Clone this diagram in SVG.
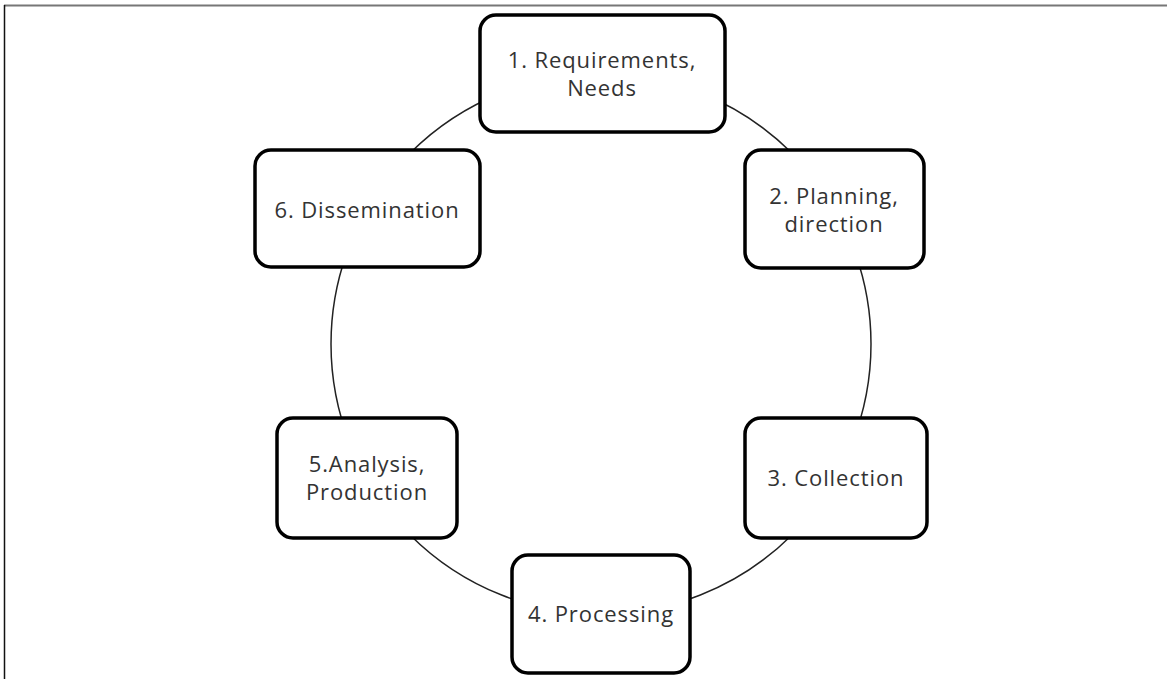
<svg xmlns="http://www.w3.org/2000/svg" width="1167" height="679" viewBox="0 0 1167 679">
<style>
.box{fill:#fff;stroke:#000;stroke-width:3.5}
.lbl{font-family:"Open Sans","DejaVu Sans",sans-serif;font-size:22px;letter-spacing:0.9px;fill:#333;text-anchor:middle}
.conn{fill:none;stroke:#222;stroke-width:1.5}
</style>
<rect x="0" y="0" width="1167" height="679" fill="#fff"/>
<line x1="4" y1="5.5" x2="1167" y2="5.5" stroke="#777" stroke-width="2"/>
<line x1="4.5" y1="5" x2="4.5" y2="679" stroke="#111" stroke-width="1.5"/>
<g id="connectors">
<circle class="conn" cx="601" cy="344" r="270"/>
</g>
<g id="n1">
<rect class="box" x="480" y="15" width="245" height="117" rx="16"/>
<text class="lbl" x="602" y="68">1. Requirements,</text>
<text class="lbl" x="602" y="96">Needs</text>
</g>
<g id="n2">
<rect class="box" x="745" y="150" width="179" height="118" rx="16"/>
<text class="lbl" x="834" y="204">2. Planning,</text>
<text class="lbl" x="834" y="232">direction</text>
</g>
<g id="n3">
<rect class="box" x="745" y="418" width="182" height="120" rx="16"/>
<text class="lbl" x="836" y="486">3. Collection</text>
</g>
<g id="n4">
<rect class="box" x="512" y="555" width="178" height="118" rx="16"/>
<text class="lbl" x="601" y="622">4. Processing</text>
</g>
<g id="n5">
<rect class="box" x="277" y="418" width="180" height="120" rx="16"/>
<text class="lbl" x="367" y="472">5.Analysis,</text>
<text class="lbl" x="367" y="500">Production</text>
</g>
<g id="n6">
<rect class="box" x="255" y="150" width="225" height="117" rx="16"/>
<text class="lbl" x="367" y="218">6. Dissemination</text>
</g>
</svg>
